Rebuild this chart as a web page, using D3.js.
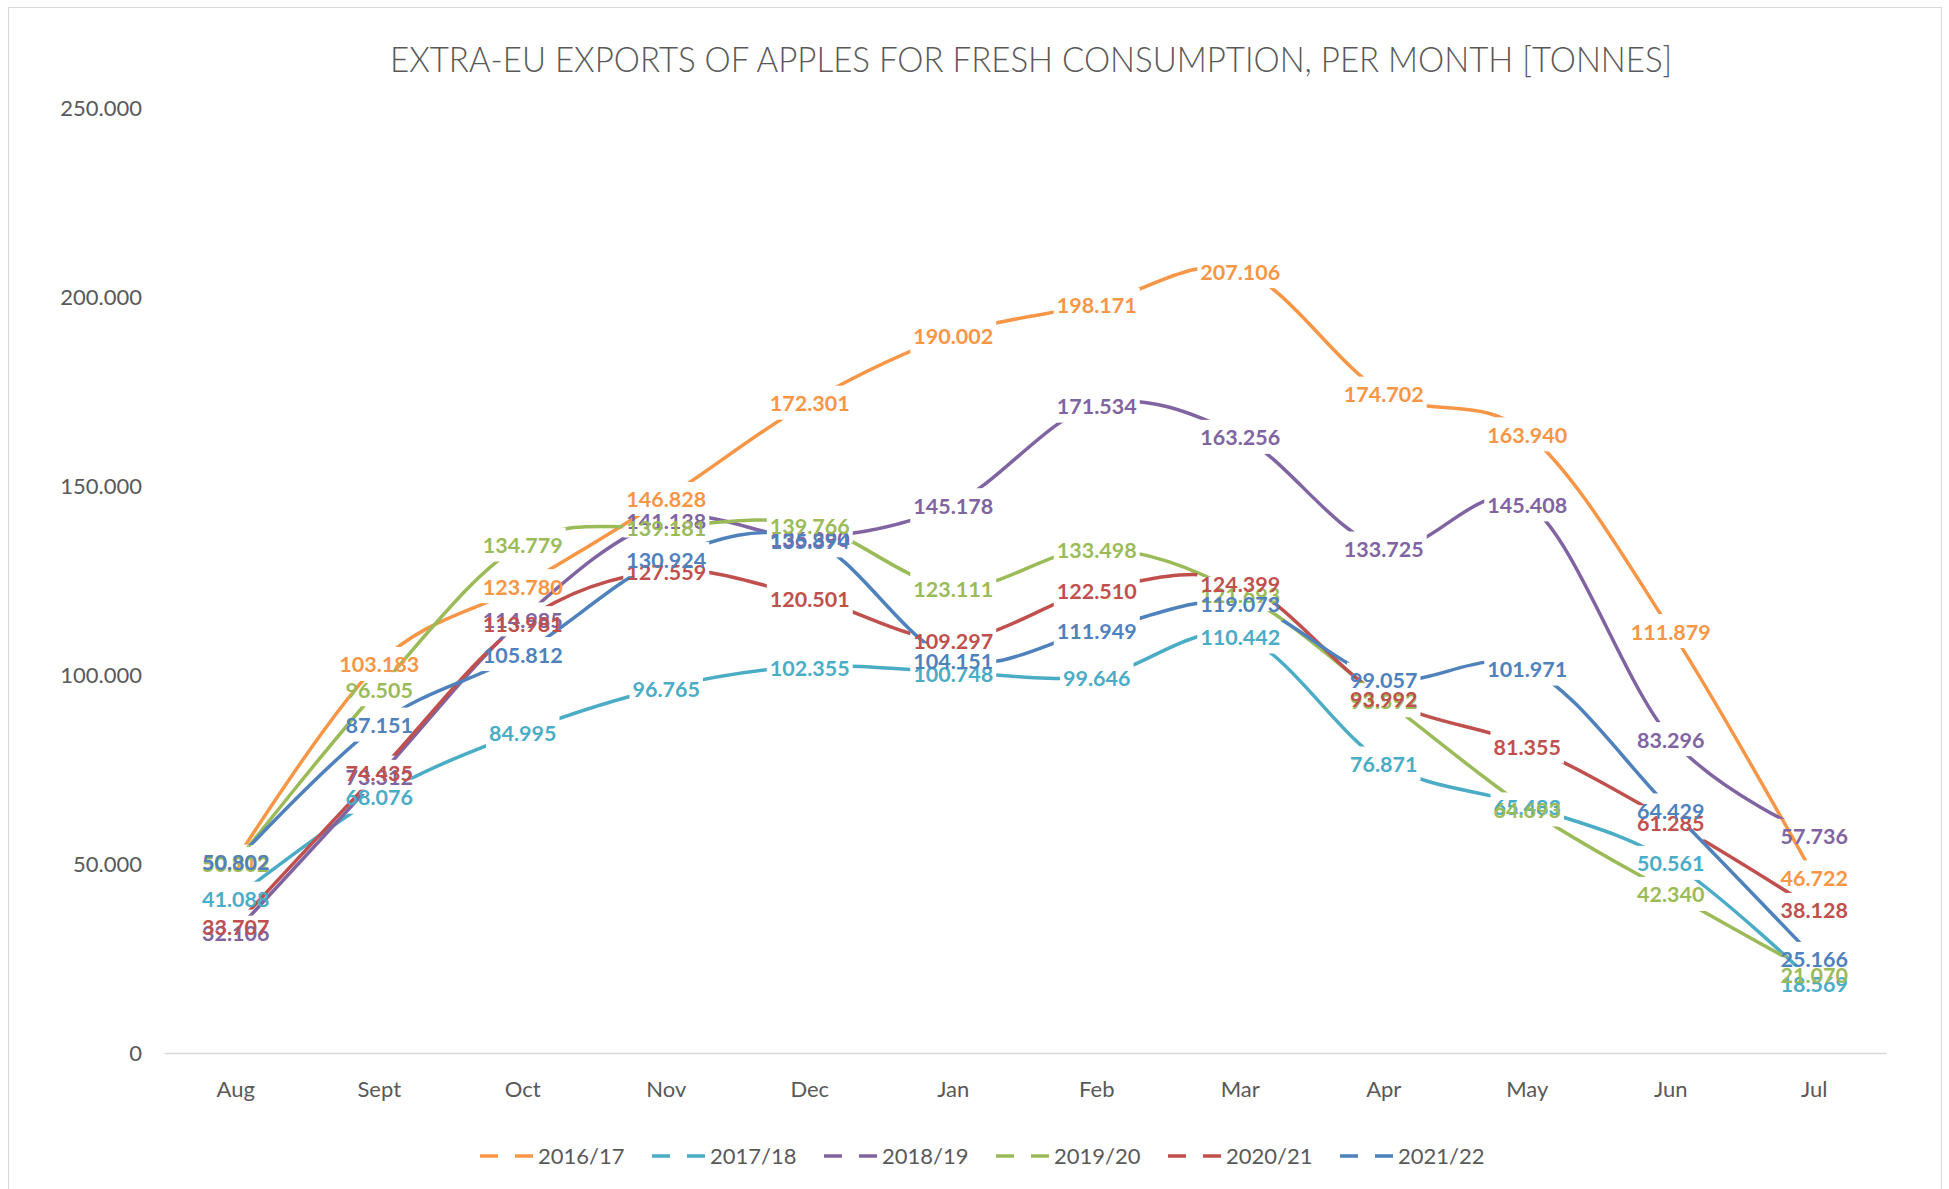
<!DOCTYPE html>
<html>
<head>
<meta charset="utf-8">
<script src="https://cdn.jsdelivr.net/npm/d3@7"></script>
<style>
  body { margin: 0; background: #fff; }
  text { font-family: Lato, "Open Sans", sans-serif; }
</style>
</head>
<body>
<svg id="chart" width="1949" height="1189"></svg>
<script>
// months of the marketing year
var months = ["Aug", "Sept", "Oct", "Nov", "Dec", "Jan", "Feb", "Mar", "Apr", "May", "Jun", "Jul"];

// tonnes per month, one array per season
var s2016 = [50912, 103183, 123780, 146828, 172301, 190002, 198171, 207106, 174702, 163940, 111879, 46722];
var s2017 = [41088, 68076, 84995, 96765, 102355, 100748, 99646, 110442, 76871, 65483, 50561, 18569];
var s2018 = [32106, 73312, 114985, 141138, 136390, 145178, 171534, 163256, 133725, 145408, 83296, 57736];
var s2019 = [50302, 96505, 134779, 139181, 139766, 123111, 133498, 121693, 93592, 64693, 42340, 21070];
var s2020 = [33707, 74435, 113981, 127559, 120501, 109297, 122510, 124399, 93992, 81355, 61285, 38128];
var s2021 = [50802, 87151, 105812, 130924, 135894, 104151, 111949, 119073, 99057, 101971, 64429, 25166];

var seasons = ["2016/17", "2017/18", "2018/19", "2019/20", "2020/21", "2021/22"];
var yTicks = [0, 50000, 100000, 150000, 200000, 250000];
var titleText = "EXTRA-EU EXPORTS OF APPLES FOR FRESH CONSUMPTION, PER MONTH [TONNES]";

var colors = ["#F79646", "#4BACC6", "#8064A2", "#9BBB59", "#C0504D", "#4F81BD"];

var series = [s2016, s2017, s2018, s2019, s2020, s2021].map(function(vals, i) {
  return { name: seasons[i], color: colors[i], values: vals };
});

// dotted thousands like the original
var loc = d3.formatLocale({ decimal: ",", thousands: ".", grouping: [3], currency: ["", ""] });
var fmt = loc.format(",d");

var svg = d3.select("#chart");

// chart frame
svg.append("rect")
  .attr("x", 8.5).attr("y", 7.5)
  .attr("width", 1933).attr("height", 1220)
  .attr("fill", "#fff")
  .attr("stroke", "#d9d9d9");

var plot = { left: 164, right: 1886, top: 108, bottom: 1053 };

var x = d3.scaleBand().domain(months).range([plot.left, plot.right]);
var y = d3.scaleLinear().domain([0, 250000]).range([plot.bottom, plot.top]);
var cx = function(m) { return x(m) + x.bandwidth() / 2; };

// title
svg.append("text")
  .attr("x", 1031).attr("y", 72)
  .attr("text-anchor", "middle")
  .attr("font-size", 35)
  .attr("font-weight", 300)
  .attr("fill", "#595959")
  .attr("textLength", 1282)
  .attr("lengthAdjust", "spacingAndGlyphs")
  .text(titleText);

// y axis (no line, just labels)
var yAxis = d3.axisLeft(y).tickValues(yTicks).tickFormat(fmt).tickSize(0).tickPadding(0);
var gy = svg.append("g").attr("transform", "translate(142,0)").call(yAxis);
gy.select(".domain").remove();
gy.selectAll("text")
  .attr("font-size", 22)
  .attr("fill", "#595959")
  .style("font-family", "Lato, sans-serif");

// x axis
var xAxis = d3.axisBottom(x).tickSize(0).tickPadding(28);
var gx = svg.append("g").attr("transform", "translate(0," + plot.bottom + ")").call(xAxis);
gx.select(".domain").attr("stroke", "#d9d9d9").attr("stroke-width", 1.3);
gx.selectAll("text")
  .attr("font-size", 22)
  .attr("fill", "#595959")
  .style("font-family", "Lato, sans-serif");

var defs = svg.append("defs");

var line = d3.line()
  .curve(d3.curveCatmullRom.alpha(0))
  .x(function(d, i) { return cx(months[i]); })
  .y(function(d) { return y(d); });

var linesG = svg.append("g");
var labelsG = svg.append("g");

// labels first (so we can measure), lines masked around their own labels
series.forEach(function(s, si) {
  var lg = labelsG.append("g");
  var boxes = [];
  s.values.forEach(function(v, i) {
    var t = lg.append("text")
      .attr("x", cx(months[i]))
      .attr("y", y(v) + 9.5)
      .attr("text-anchor", "middle")
      .attr("font-size", 21.5)
      .attr("font-weight", 700)
      .attr("fill", s.color)
      .text(fmt(v));
    var w = t.node().getComputedTextLength();
    boxes.push({ x: cx(months[i]) - w / 2 - 3, y: y(v) - 16, w: w + 6, h: 34 });
  });

  var mask = defs.append("mask")
    .attr("id", "m" + si)
    .attr("maskUnits", "userSpaceOnUse")
    .attr("x", 0).attr("y", 0).attr("width", 1949).attr("height", 1189);
  mask.append("rect").attr("width", 1949).attr("height", 1189).attr("fill", "#fff");
  boxes.forEach(function(b) {
    mask.append("rect")
      .attr("x", b.x).attr("y", b.y)
      .attr("width", b.w).attr("height", b.h)
      .attr("fill", "#000");
  });

  linesG.append("path")
    .datum(s.values)
    .attr("d", line)
    .attr("fill", "none")
    .attr("stroke", s.color)
    .attr("stroke-width", 3.5)
    .attr("stroke-linecap", "round")
    .attr("mask", "url(#m" + si + ")");
});

// legend
var legend = svg.append("g").attr("transform", "translate(480,1156)");
series.forEach(function(s, i) {
  var g = legend.append("g").attr("transform", "translate(" + (i * 172) + ",0)");
  g.append("line")
    .attr("x1", 0).attr("x2", 54)
    .attr("y1", 0).attr("y2", 0)
    .attr("stroke", s.color)
    .attr("stroke-width", 3.5)
    .attr("stroke-dasharray", "18,17");
  g.append("text")
    .attr("x", 58).attr("y", 8)
    .attr("font-size", 22)
    .attr("fill", "#595959")
    .text(s.name);
});
</script>
</body>
</html>
